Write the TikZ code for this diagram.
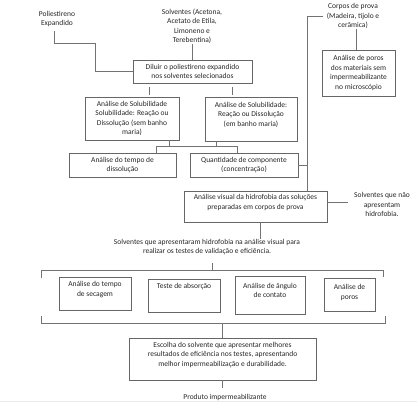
\documentclass[tikz,border=0pt]{standalone}
\usepackage{fontspec}
\setmainfont{Carlito}
\begin{document}
\begin{tikzpicture}[x=1pt,y=-1pt,
  box/.style={draw=black!60, line width=0.8pt, inner sep=0pt, align=center, font=\fontsize{7.5}{9.5}\selectfont, text=black!85},
  txt/.style={inner sep=0pt, align=center, font=\fontsize{7.5}{9.5}\selectfont, text=black!85},
  conn/.style={draw=black!55, line width=0.7pt}]
\useasboundingbox (0,0) rectangle (417,414);

% free texts
\node[txt] (pe) at (57,19) {Poliestireno\\Expandido};
\node[txt] (solv) at (192,26.5) {Solventes (Acetona,\\Acetato de Etila,\\Limoneno e\\Terebentina)};
\node[txt] (cp) at (353,16) {Corpos de prova\\(Madeira, tijolo e\\cerâmica)};
\node[txt] (snh) at (382,204.5) {Solventes que não\\apresentam\\hidrofobia.};
\node[txt] (sah) at (207,247) {Solventes que apresentaram hidrofobia na análise visual para\\realizar os testes de validação e eficiência.};
\node[txt] (prod) at (225,397) {Produto impermeabilizante};

% boxes
\node[box, minimum width=119pt, minimum height=23pt] (dil) at (192.5,71.5) {Diluir o poliestireno expandido\\nos solventes selecionados};
\node[box, minimum width=94pt, minimum height=43pt] (sol1) at (132,118.5) {Análise de Solubilidade\\Solubilidade: Reação ou\\Dissolução (sem banho\\maria)};
\node[box, minimum width=92pt, minimum height=44pt] (sol2) at (251,119) {Análise de Solubilidade:\\Reação ou Dissolução\\(em banho maria)\\~};
\node[box, minimum width=107pt, minimum height=24pt] (tdis) at (122.5,165) {Análise do tempo de\\dissolução};
\node[box, minimum width=108pt, minimum height=24pt] (qtd) at (244,165) {Quantidade de componente\\(concentração)};
\node[box, minimum width=73pt, minimum height=46pt] (por0) at (358.5,73) {Análise de poros\\dos materiais sem\\impermeabilizante\\no microscópio};
\node[box, minimum width=143pt, minimum height=31pt] (vis) at (255.5,206.5) {Análise visual da hidrofobia das soluções\\preparadas em corpos de prova\\~};
\node[box, minimum width=72pt, minimum height=33pt] (sec) at (95,293.5) {Análise do tempo\\de secagem\\~};
\node[box, minimum width=72pt, minimum height=33pt] (abs) at (184,295.5) {Teste de absorção\\~\\~};
\node[box, minimum width=70pt, minimum height=38pt] (ang) at (270,295) {Análise de ângulo\\de contato\\~};
\node[box, minimum width=51pt, minimum height=33pt] (por) at (349.5,294.5) {Análise de\\poros\\[-4pt]~};
\node[box, minimum width=187pt, minimum height=42pt] (esc) at (222.5,359) {Escolha do solvente que apresentar melhores\\resultados de eficiência nos testes, apresentando\\melhor impermeabilização e durabilidade.\\~};

% helper coordinates
\coordinate (vx) at (307,0);
\coordinate (bar) at (0,146);
\coordinate (tk) at (212,263);
\coordinate (brt) at (0,270);
\coordinate (brb) at (0,323);

% connectors
\draw[conn] ([shift={(-3pt,-4pt)}]pe.south) |- (95,43) |- (dil.west);
\draw[conn] (solv.south) -- (solv.south |- dil.north);
\draw[conn, shorten <=4pt, shorten >=2pt] (dil.south -| 149,0) -- (sol1.north -| 149,0);
\draw[conn, shorten <=4pt, shorten >=2pt] (dil.south -| 232,0) -- (sol2.north -| 232,0);
\draw[conn] (sol1.south -| 169,0) -- (bar -| 169,0);
\draw[conn] (sol2.south -| 216,0) -- (bar -| 216,0);
\draw[conn] (tdis.north -| 156,0) -- (bar -| 156,0) -- (bar -| 237,0) -- (qtd.north -| 237,0);
\draw[conn] ([xshift=-4pt]cp.west) -| (vis.north -| vx);
\draw[conn] (qtd.east) -- (qtd.east -| vx);
\draw[conn] ([xshift=3pt]cp.south) -- ([xshift=-2.5pt]por0.north);
\draw[conn, shorten >=6pt] ([yshift=4.5pt]vis.east) -- ([yshift=4.5pt]vis.east -| snh.west);
\draw[conn] (vis.south -| 260,0) -- (sah.north -| 260,0);
\draw[conn] (tk) -- ([yshift=-1pt]tk |- brt);
\draw[conn] (41,278) -- (brt -| 41,0) -- (brt -| 383,0) -- (383,277);
\draw[conn] (41,316) -- (brb -| 41,0) -- (brb -| 385,0) -- (385,316);
\draw[conn] (esc.north) -- (esc.north |- brb);
\draw[conn] (esc.south) -- ++(0,8);
\draw[black!8, line width=0.6pt] (0,401.5) -- (417,401.5);
\end{tikzpicture}
\end{document}
